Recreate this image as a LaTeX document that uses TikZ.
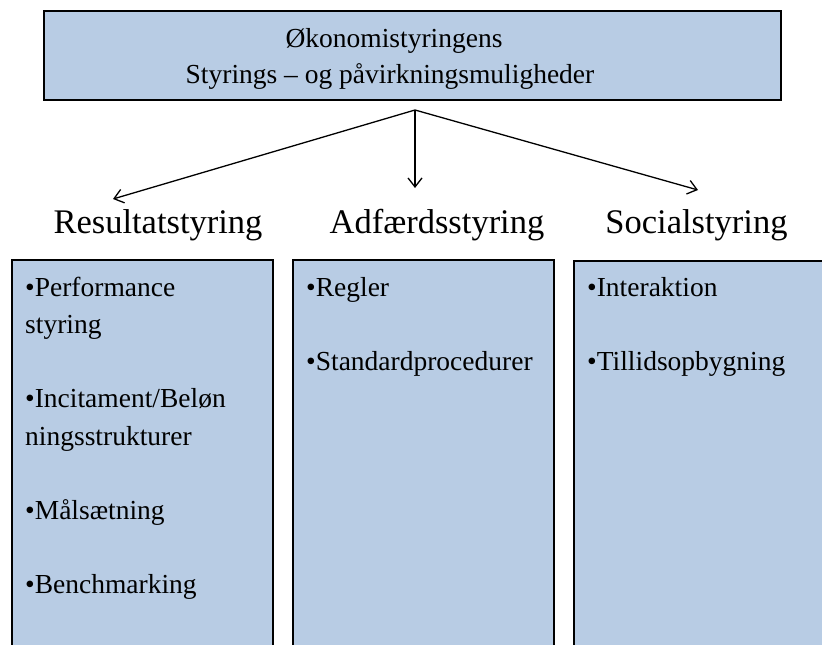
\documentclass[tikz,border=0pt]{standalone}
\usepackage{fontspec}
\setmainfont{Liberation Serif}
\usetikzlibrary{arrows.meta}
\definecolor{boxblue}{RGB}{184,204,228}
\begin{document}
\begin{tikzpicture}[x=1pt,y=-1pt,
  panel/.style={draw=black, line width=2pt, fill=boxblue, inner sep=0pt, anchor=north west},
  heading/.style={font=\fontsize{34.5}{40}\selectfont, anchor=base, inner sep=0pt},
  item/.style={font=\fontsize{27.5}{33}\selectfont, anchor=base west, inner sep=0pt},
  titletext/.style={font=\fontsize{27.5}{33}\selectfont, anchor=base, inner sep=0pt},
  link/.style={line width=1.3pt, -{Straight Barb[length=9pt,width=14pt]}}]
\useasboundingbox (0,0) rectangle (822,645);
\clip (0,0) rectangle (822,645);
% top box
\node[panel, minimum width=737pt, minimum height=89pt] (top) at (43,10) {};
\node[titletext] (t1) at (394,47.5) {Økonomistyringens};
\node[titletext] (t2) at (390,83) {Styrings – og påvirkningsmuligheder};
% arrows
\coordinate (o) at (415,110);
\coordinate (eL) at (113,199);
\coordinate (eM) at (415,188);
\coordinate (eR) at (698,190);
\draw[link] (o) -- (eL);
\draw[link] (o) -- (eM);
\draw[link] (o) -- (eR);
% headings
\node[heading] (h1) at (158,233) {Resultatstyring};
\node[heading] (h2) at (437,233) {Adfærdsstyring};
\node[heading] (h3) at (696.5,233) {Socialstyring};
% panels
\node[panel, minimum width=261pt, minimum height=420pt] (p1) at (11,259) {};
\node[panel, minimum width=261pt, minimum height=420pt] (p2) at (292,259) {};
\node[panel, minimum width=261pt, minimum height=420pt] (p3) at (573,260) {};
% left items
\node[item] (a1) at (25,296) {•Performance};
\node[item] (a2) at (25,333) {styring};
\node[item] (a3) at (25,407.5) {•Incitament/Beløn};
\node[item] (a4) at (25,445) {ningsstrukturer};
\node[item] (a5) at (25,519) {•Målsætning};
\node[item] (a6) at (25,593) {•Benchmarking};
% middle items
\node[item] (b1) at (306,296) {•Regler};
\node[item] (b2) at (306,370.5) {•Standardprocedurer};
% right items
\node[item] (c1) at (587,296) {•Interaktion};
\node[item] (c2) at (587,370.5) {•Tillidsopbygning};
\end{tikzpicture}
\end{document}
